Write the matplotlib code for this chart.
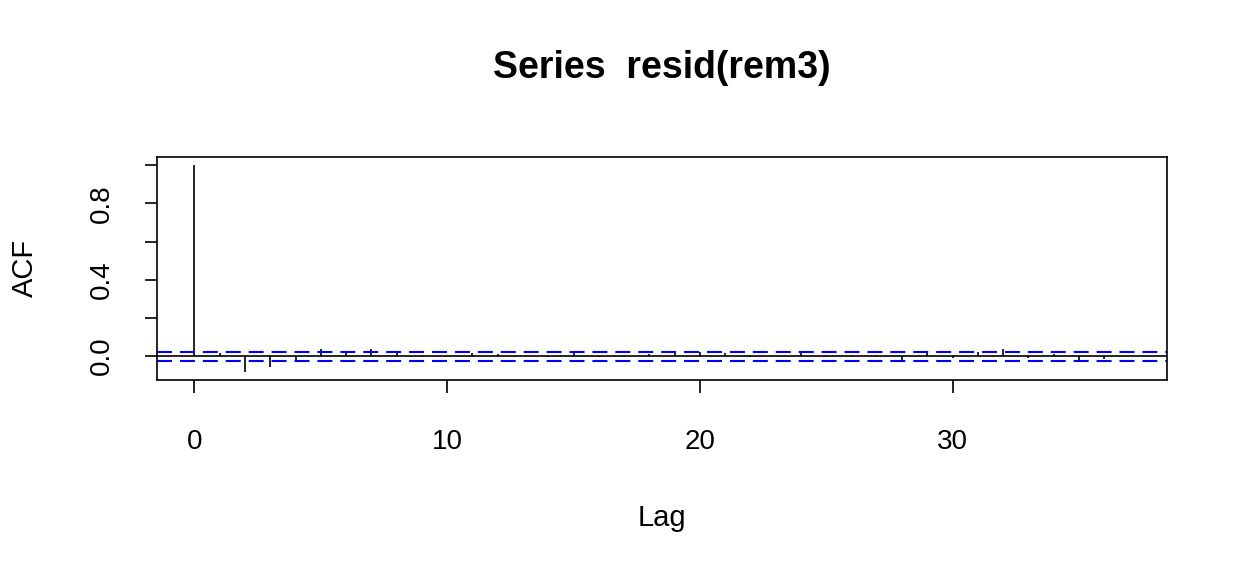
import matplotlib
matplotlib.use("Agg")
import matplotlib.pyplot as plt
import numpy as np

# Data
lags = list(range(0, 38))
acf_values = [1.0, 0.015, -0.082, -0.056, -0.033, 0.037, 0.017, 0.035, 0.015, 0.008,
              0.002, 0.015, 0.010, 0.003, -0.003, 0.018, -0.003, -0.003, 0.011, 0.020,
              0.019, 0.014, -0.004, 0.002, 0.017, -0.006, 0.004, -0.005, -0.027, 0.014,
              -0.008, 0.020, 0.036, -0.008, 0.010, -0.021, -0.014, 0.003]
conf_limit = 0.0236
title_text = "Series  resid(rem3)"
x_ticks = [0, 10, 20, 30]
y_ticks = [0.0, 0.2, 0.4, 0.6, 0.8, 1.0]
y_tick_labels = ["0.0", "", "0.4", "", "0.8", ""]

plt.rcParams['font.family'] = ['Liberation Sans', 'DejaVu Sans']

fig = plt.figure(figsize=(12.48, 5.76), dpi=100)
ax = fig.add_axes([157/1248, 1 - 380/576, (1167-157)/1248, (380-157)/576])

ax.vlines(lags, 0, acf_values, color='black', linewidth=1.2)
ax.axhline(0, color='black', linewidth=1.2)
for c in (conf_limit, -conf_limit):
    ax.axhline(c, color='#0000FF', linewidth=1.5, linestyle=(0, (7.2, 3.8)))

xr = max(lags) - min(lags)
ax.set_xlim(min(lags) - 0.04 * xr, max(lags) + 0.04 * xr)
ymin = min(min(acf_values), -conf_limit)
ymax = max(max(acf_values), conf_limit)
yr = ymax - ymin
ax.set_ylim(ymin - 0.04 * yr, ymax + 0.04 * yr)

ax.set_xticks(x_ticks)
ax.set_xticklabels([str(t) for t in x_ticks])
ax.set_yticks(y_ticks)
ax.set_yticklabels(y_tick_labels, rotation=90, va='center')

ax.tick_params(axis='both', direction='out', length=9, width=1.2, labelsize=20, color='black')
ax.tick_params(axis='x', pad=26)
ax.tick_params(axis='y', pad=21)
for s in ax.spines.values():
    s.set_linewidth(1.2)

fig.text(662/1248, 1 - 68/576, title_text, ha='center', va='center', fontsize=27, fontweight='bold')
fig.text(662/1248, 1 - 518/576, "Lag", ha='center', va='center', fontsize=21)
fig.text(25/1248, 1 - 268/576, "ACF", ha='center', va='center', fontsize=21, rotation=90)

fig.savefig("out.png", dpi=100)
